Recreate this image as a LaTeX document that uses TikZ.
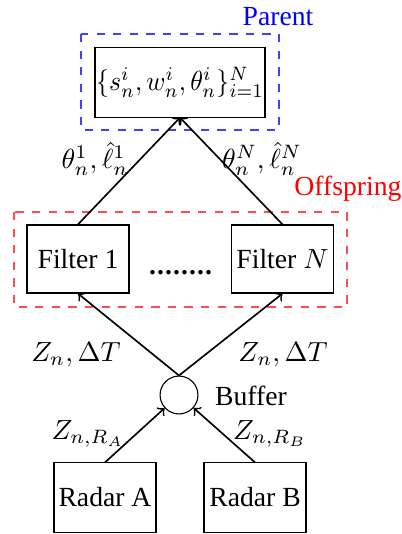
\documentclass[tikz,border=0pt]{standalone}
\usepackage{fontspec}
\setmainfont{Liberation Serif}
\begin{document}
\begin{tikzpicture}[x=0.3616pt,y=-0.3616pt,
    box/.style={draw,thin,minimum width=36.9pt,minimum height=24.6pt,inner sep=1pt},
    group/.style={draw,dashed,thin},
    link/.style={->,semithick}]
  \useasboundingbox (0,0) rectangle (401,534);
  % boxes
  \node[box,minimum width=61.5pt,minimum height=25pt,inner sep=0pt] (parent) at (180,82.5) {\scalebox{0.93}[1]{$\{s_n^i,w_n^i,\theta_n^i\}_{i=1}^N$}};
  \node[box] (filterone) at (78,259) {Filter 1};
  \node[box] (filtern) at (282.5,259) {Filter $N$};
  \node (dots) at (180,273) {\textbf{\kern0.4pt.\kern0.4pt.\kern0.4pt.\kern0.4pt.\kern0.4pt.\kern0.4pt.\kern0.4pt.\kern0.4pt.}};
  \node[draw,thin,circle,minimum size=13.7pt,inner sep=0pt] (buffer) at (179,395) {};
  \node (bufferlabel) at (251,396) {Buffer};
  \node[box,minimum height=25pt] (radara) at (105,497.5) {Radar A};
  \node[box,minimum height=25pt] (radarb) at (255,497.5) {Radar B};
  % groups
  \draw[group,blue!75] (81,34) rectangle (279,130);
  \node[blue] at (278,17) {Parent};
  \draw[group,red!70] (14,212) rectangle (347,307);
  \node[red] at (348,189) {Offspring};
  % arrows
  \draw[link] (radara.north) -- (buffer);
  \draw[link] (radarb.north) -- (buffer);
  \draw[link] (buffer.north) -- (filterone.south);
  \draw[link] (buffer.north) -- (filtern.south);
  \draw[link] (filterone.north) -- (parent.south);
  \draw[link] (filtern.north) -- (parent.south);
  % labels
  \node at (95,159) {$\theta_n^1,\hat{\ell}_n^1$};
  \node at (262,159) {$\theta_n^N,\hat{\ell}_n^N$};
  \node at (76,355) {$Z_n,\Delta T$};
  \node at (283,355) {$Z_n,\Delta T$};
  \node at (88,434) {$Z_{n,R_A}$};
  \node at (270,434) {$Z_{n,R_B}$};
\end{tikzpicture}
\end{document}
